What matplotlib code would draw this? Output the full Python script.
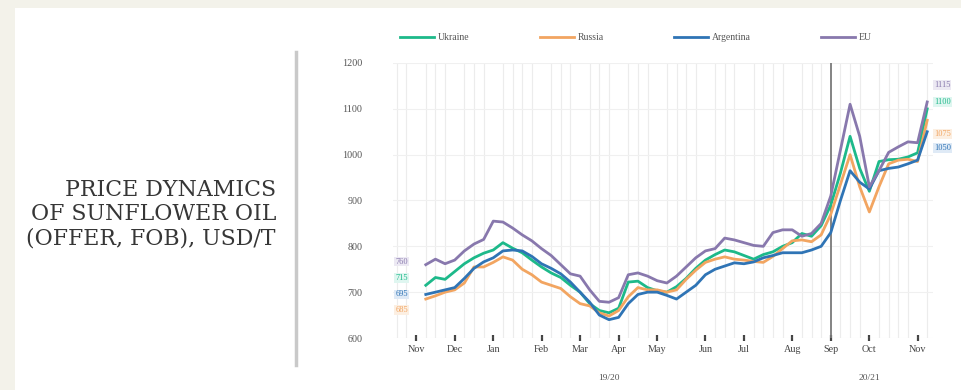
## Sunflower oil FOB offer prices, weekly, Nov 2019 - Nov 2020
import numpy
import matplotlib
matplotlib.use('Agg')
import matplotlib.pyplot as plt
from matplotlib.lines import Line2D
from matplotlib.patches import Rectangle

weeks = numpy.arange(1, 54)

ukraine = [715, 732, 728, 745, 762, 775, 785, 792, 808, 796, 786, 770, 755, 742, 732, 715,
           700, 675, 660, 655, 665, 722, 724, 710, 703, 700, 712, 730, 752, 770, 782, 792,
           788, 780, 772, 782, 788, 800, 808, 828, 822, 845, 890, 960, 1040, 970, 920, 985,
           989, 990, 995, 1004, 1100]
russia = [685, 692, 700, 705, 720, 755, 755, 765, 777, 770, 750, 738, 722, 715, 708, 690,
          675, 670, 655, 648, 660, 690, 710, 705, 705, 700, 705, 728, 748, 765, 772, 777,
          772, 770, 767, 765, 778, 795, 812, 814, 810, 825, 870, 935, 1000, 930, 875, 930,
          980, 988, 990, 985, 1075]
argentina = [695, 700, 705, 710, 730, 752, 766, 775, 790, 792, 790, 778, 762, 752, 740, 722,
             700, 678, 650, 640, 645, 675, 695, 700, 700, 693, 685, 700, 715, 738, 750, 757,
             764, 762, 766, 775, 780, 786, 786, 786, 792, 800, 830, 900, 965, 940, 925, 965,
             970, 973, 980, 988, 1050]
eu = [760, 772, 762, 770, 790, 805, 815, 855, 853, 840, 825, 812, 795, 780, 760, 740,
      735, 705, 680, 678, 688, 738, 742, 735, 725, 720, 735, 755, 775, 790, 795, 818,
      814, 808, 802, 800, 830, 836, 836, 822, 828, 850, 910, 1010, 1110, 1040, 930, 965,
      1005, 1017, 1028, 1026, 1115]

month_pos = [0, 4, 8, 13, 17, 21, 25, 30, 34, 39, 43, 47, 52]
month_lab = ['Nov', 'Dec', 'Jan', 'Feb', 'Mar', 'Apr', 'May', 'Jun', 'Jul', 'Aug', 'Sep', 'Oct', 'Nov']
season_split = 43

series = [('Ukraine', ukraine, '#1db98a', (7, 7)),
          ('Russia', russia, '#f2a561', (-11, -14)),
          ('Argentina', argentina, '#2f74b5', (0, -16)),
          ('EU', eu, '#8878ad', (3, 17))]
bg = {'Ukraine': '#dff6f0', 'Russia': '#fcefe2', 'Argentina': '#dfeaf6', 'EU': '#ece9f3'}

plt.rcParams['font.family'] = ['Liberation Serif', 'DejaVu Serif']

fig = plt.figure(figsize=(9.61, 3.90), dpi=100)
fig.patch.set_facecolor('#f3f2ea')
fig.patches.append(Rectangle((15 / 961, 0), 1, 1 - 8 / 390, transform=fig.transFigure,
                             facecolor='white', edgecolor='none', zorder=-5))

## title block and separator
fig.text(276 / 961, 1 - 214 / 390, 'PRICE DYNAMICS\nOF SUNFLOWER OIL\n(OFFER, FOB), USD/T',
         ha='right', va='center', fontsize=15.8, color='#363636', linespacing=1.14,
         family='DejaVu Serif')
fig.add_artist(Line2D([296 / 961, 296 / 961], [1 - 52 / 390, 1 - 365 / 390],
                      transform=fig.transFigure, color='#c9c9c9', lw=2.5))

ax = fig.add_axes([393 / 961, 52 / 390, 540 / 961, 275 / 390])
ax.set_facecolor('white')

for name, vals, col, (d0, d1) in series:
    ax.plot(weeks, vals, color=col, lw=2, label=name, zorder=3)
    ax.annotate(str(vals[0]), (weeks[0], vals[0]), xytext=(-22, d0 * 0.72),
                textcoords='offset points', ha='left', va='center', fontsize=6,
                color=col, bbox=dict(boxstyle='square,pad=0.1', fc=bg[name], ec='none'))
    ax.annotate(str(vals[-1]), (weeks[-1], vals[-1]), xytext=(5, d1 * 0.72),
                textcoords='offset points', ha='left', va='center', fontsize=6,
                color=col, annotation_clip=False,
                bbox=dict(boxstyle='square,pad=0.1', fc=bg[name], ec='none'))

ax.axvline(season_split, color='#7a7a7a', lw=1.3, zorder=2)

ax.set_xlim(-2.4, 53.6)
ax.set_ylim(600, 1200)
ax.set_yticks(range(600, 1201, 100))
ax.set_xticks(numpy.arange(-2, 54), minor=True)
ax.grid(which='minor', axis='x', color='#ececec', lw=0.8)
ax.grid(which='major', axis='y', color='#f0f0f0', lw=0.8)
ax.set_xticks(month_pos)
ax.set_xticklabels(month_lab)
ax.tick_params(axis='x', which='major', length=4, width=1.6, color='#444444',
               direction='inout', labelsize=7.3, labelcolor='#444444', pad=3)
ax.tick_params(axis='x', which='minor', length=0)
ax.tick_params(axis='y', length=0, labelsize=7.3, labelcolor='#555555', pad=22)
for s in ax.spines.values():
    s.set_visible(False)

ax.text(20, -0.13, '19/20', transform=ax.get_xaxis_transform(), ha='center', va='top',
        fontsize=6.8, color='#555555')
ax.text(47, -0.13, '20/21', transform=ax.get_xaxis_transform(), ha='center', va='top',
        fontsize=6.8, color='#555555')

fig.legend(loc='center', bbox_to_anchor=(636 / 961, 1 - 38 / 390), ncol=4, frameon=False,
           fontsize=7, handlelength=3.5, handletextpad=0.4, columnspacing=7.2,
           labelcolor='#555555')

fig.savefig('out.png', dpi=100)
